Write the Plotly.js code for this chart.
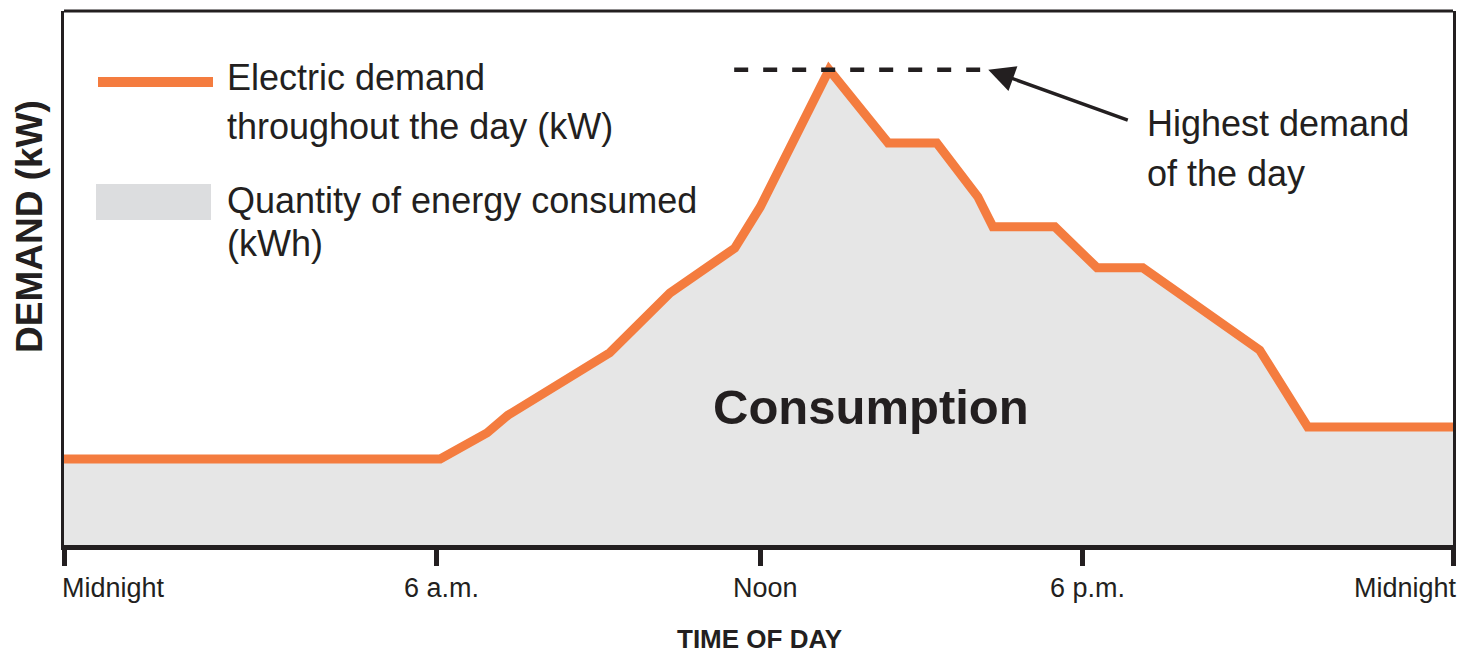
<!DOCTYPE html>
<html>
<head>
<meta charset="utf-8">
<script src="https://cdn.plot.ly/plotly-3.0.1.min.js"></script>
<style>
  html, body { margin: 0; padding: 0; background: #ffffff; }
  #chart { width: 1460px; height: 656px; }
</style>
</head>
<body>
<div id="chart"></div>
<script>
// ---- data ----
const hours  = [0, 6.50, 7.31, 7.67, 9.43, 10.47, 11.59, 12.03, 13.22, 14.24, 15.08, 15.79, 16.05, 17.12, 17.85, 18.64, 20.66, 21.49, 24];
const demand = [16.1, 16.1, 21.0, 24.3, 36.0, 47.2, 55.6, 63.3, 89.0, 75.3, 75.3, 65.2, 59.6, 59.6, 51.9, 51.9, 36.5, 22.1, 22.1];
const tickHours  = [0, 6.43, 12.03, 17.59, 24];
const tickLabels = ["Midnight", "6 a.m.", "Noon", "6 p.m.", "Midnight"];
const legendLineText = ["Electric demand", "throughout the day (kW)"];
const legendFillText = ["Quantity of energy consumed", "(kWh)"];
const peakNoteText = ["Highest demand", "of the day"];
const areaLabel = "Consumption";
const xTitle = "TIME OF DAY";
const yTitle = "DEMAND (kW)";

// ---- styling / layout helpers ----
const ORANGE = "#f47c3f";
const FILL = "#e6e6e6";
const SWATCH = "#dcdddf";
const INK = "#231f20";
const FONT = '"Liberation Sans", Arial, Helvetica, sans-serif';

const W = 1460, H = 656;
const M = {l: 64, r: 7, t: 11, b: 111};
const PW = W - M.l - M.r, PH = H - M.t - M.b;
const PX = x => (x - M.l) / PW;      // pixel -> paper x
const PY = y => (H - M.b - y) / PH;  // pixel -> paper y

const peak = Math.max(...demand);

const trace = {
  x: hours, y: demand, type: "scatter", mode: "lines",
  line: {color: ORANGE, width: 9, shape: "linear"},
  fill: "tozeroy", fillcolor: FILL,
  hoverinfo: "skip", showlegend: false, cliponaxis: true
};

const annotations = [];
// tick labels
tickHours.forEach((h, i) => {
  annotations.push({
    xref: "x", yref: "paper", x: h, y: PY(588),
    text: tickLabels[i], showarrow: false,
    xanchor: i === 0 ? "left" : (i === tickHours.length - 1 ? "right" : "center"),
    yanchor: "middle",
    xshift: i === 0 ? -4 : (i === tickHours.length - 1 ? 6 : 5),
    font: {family: FONT, size: 27, color: INK}
  });
});
// legend texts
[[legendLineText[0], 78], [legendLineText[1], 127], [legendFillText[0], 200], [legendFillText[1], 244]].forEach(([t, y]) => {
  annotations.push({xref: "paper", yref: "paper", x: PX(225), y: PY(y), text: t, showarrow: false,
    xanchor: "left", yanchor: "middle", font: {family: FONT, size: 36, color: INK}});
});
// peak note
[[peakNoteText[0], 124], [peakNoteText[1], 174]].forEach(([t, y]) => {
  annotations.push({xref: "paper", yref: "paper", x: PX(1145), y: PY(y), text: t, showarrow: false,
    xanchor: "left", yanchor: "middle", font: {family: FONT, size: 36, color: INK}});
});
// arrow to the peak line
annotations.push({xref: "x", yref: "y", x: 15.97, y: peak, text: "", showarrow: true,
  ax: 141, ay: 51, arrowhead: 2, arrowsize: 1.5, arrowwidth: 3.5, arrowcolor: INK, standoff: 0});
// area label
annotations.push({xref: "paper", yref: "paper", x: PX(871), y: PY(407), text: "<b>" + areaLabel + "</b>",
  showarrow: false, xanchor: "center", yanchor: "middle", font: {family: FONT, size: 49, color: INK}});
// axis titles
annotations.push({xref: "paper", yref: "paper", x: PX(759), y: PY(639), text: "<b>" + xTitle + "</b>",
  showarrow: false, xanchor: "center", yanchor: "middle", font: {family: FONT, size: 26, color: INK}});
annotations.push({xref: "paper", yref: "paper", x: PX(29), y: PY(227), text: "<b>" + yTitle + "</b>",
  showarrow: false, xanchor: "center", yanchor: "middle", textangle: -90,
  font: {family: FONT, size: 37, color: INK}});

const shapes = [
  // top frame line
  {type: "line", xref: "paper", yref: "paper", x0: 0, x1: 1, y0: 1, y1: 1, line: {color: INK, width: 3}},
  // legend swatches
  {type: "line", xref: "paper", yref: "paper", x0: PX(98), x1: PX(213), y0: PY(82), y1: PY(82), line: {color: ORANGE, width: 10}},
  {type: "rect", xref: "paper", yref: "paper", x0: PX(96), x1: PX(211), y0: PY(220), y1: PY(184), fillcolor: SWATCH, line: {width: 0}},
  // dashed peak line
  {type: "line", xref: "x", yref: "y", x0: 11.58, x1: 15.83, y0: peak, y1: peak,
   line: {color: INK, width: 4.5, dash: "14px,15px"}}
];

const layout = {
  width: W, height: H, margin: M,
  paper_bgcolor: "#ffffff", plot_bgcolor: "#ffffff",
  showlegend: false,
  xaxis: {range: [0, 24], showgrid: false, zeroline: false, showline: true, linewidth: 5, linecolor: INK,
          ticks: "outside", ticklen: 16, tickwidth: 5, tickcolor: INK, tickmode: "array", tickvals: tickHours,
          showticklabels: false, fixedrange: true},
  yaxis: {range: [0, 100], showgrid: false, zeroline: false, showline: true, mirror: true, linewidth: 3,
          linecolor: INK, ticks: "", showticklabels: false, fixedrange: true},
  annotations: annotations,
  shapes: shapes
};

Plotly.newPlot("chart", [trace], layout, {displayModeBar: false, staticPlot: true});
</script>
</body>
</html>
